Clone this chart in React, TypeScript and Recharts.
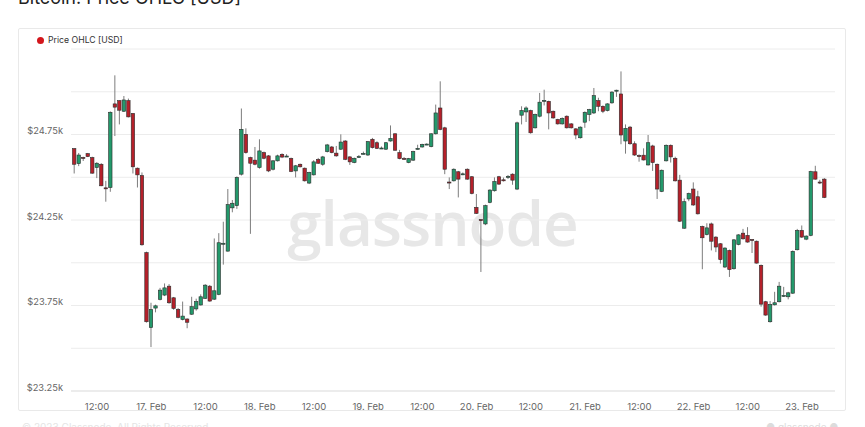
import React from 'react';
import { ComposedChart, Bar, XAxis, YAxis, CartesianGrid } from 'recharts';

// hourly candles, first one at 16 Feb 07:00
const firstHour = 7;

const openPrices = [
  24667, 24580, 24616, 24638, 24615, 24557, 24576, 24438, 24440, 24929,
  24948, 24886, 24948, 24873, 24553, 24510, 24059, 23621, 23735, 23786,
  23811, 23863, 23795, 23727, 23668, 23671, 23699, 23730, 23753, 23792,
  23863, 23787, 23815, 24110, 24068, 24321, 24334, 24518, 24751, 24615,
  24600, 24557, 24644, 24625, 24547, 24596, 24634, 24622, 24610, 24537,
  24576, 24553, 24466, 24514, 24604, 24576, 24650, 24677, 24641, 24664,
  24712, 24619, 24586, 24617, 24636, 24630, 24722, 24702, 24668, 24664,
  24712, 24754, 24644, 24610, 24586, 24600, 24665, 24677, 24690, 24679,
  24754, 24905, 24789, 24472, 24479, 24532, 24516, 24547, 24503, 24324,
  24252, 24227, 24353, 24421, 24503, 24485, 24501, 24518, 24431, 24863,
  24882, 24890, 24789, 24857, 24946, 24944, 24886, 24838, 24812, 24857,
  24812, 24783, 24731, 24822, 24867, 24876, 24948, 24915, 24890, 24935,
  25005, 24987, 24712, 24793, 24696, 24627, 24629, 24572, 24683, 24576,
  24417, 24596, 24687, 24611, 24483, 24202, 24373, 24431, 24386, 24212,
  24165, 24227, 24150, 24111, 23975, 24072, 23965, 24107, 24173, 24160,
  24136, 24126, 23985, 23772, 23655, 23754, 23772, 23805, 23801, 23822,
  24076, 24189, 24138, 24160, 24532, 24472, 24489,
];

const highPrices = [
  24670, 24642, 24620, 24642, 24620, 24588, 24582, 24479, 24885, 25096,
  24950, 24975, 24960, 24875, 24557, 24528, 24065, 23766, 23755, 23853,
  23879, 23875, 23800, 23735, 23773, 23675, 23801, 23790, 23815, 23875,
  23870, 24142, 24173, 24240, 24431, 24367, 24505, 24902, 24786, 24620,
  24677, 24722, 24650, 24630, 24600, 24632, 24640, 24635, 24615, 24572,
  24580, 24557, 24532, 24600, 24613, 24625, 24695, 24683, 24683, 24751,
  24717, 24623, 24615, 24630, 24650, 24712, 24730, 24710, 24680, 24706,
  24803, 24758, 24660, 24618, 24613, 24655, 24690, 24696, 24698, 24758,
  24925, 25061, 24795, 24499, 24552, 24537, 24528, 24552, 24507, 24402,
  24255, 24340, 24430, 24499, 24508, 24498, 24513, 24523, 24825, 24915,
  24915, 24895, 24872, 24993, 25012, 24948, 24890, 24842, 24850, 24862,
  24817, 24787, 24798, 24885, 24900, 25022, 24965, 24920, 24933, 25003,
  25012, 25119, 24809, 24800, 24710, 24634, 24669, 24747, 24690, 24580,
  24545, 24692, 24692, 24620, 24514, 24376, 24410, 24470, 24421, 24217,
  24231, 24235, 24155, 24115, 24090, 24077, 24138, 24167, 24198, 24208,
  24138, 24130, 23990, 23777, 23776, 23830, 23888, 23859, 23830, 24072,
  24198, 24218, 24160, 24538, 24567, 24485, 24495,
];

const lowPrices = [
  24522, 24565, 24595, 24618, 24520, 24495, 24448, 24357, 24415, 24741,
  24809, 24882, 24850, 24522, 24440, 24100, 23650, 23507, 23710, 23780,
  23805, 23760, 23725, 23675, 23663, 23617, 23695, 23720, 23750, 23788,
  23772, 23782, 23810, 23989, 24065, 24295, 24315, 24510, 24638, 24169,
  24570, 24550, 24605, 24530, 24540, 24592, 24612, 24620, 24530, 24499,
  24557, 24475, 24460, 24510, 24578, 24567, 24645, 24640, 24620, 24660,
  24600, 24572, 24582, 24615, 24634, 24625, 24668, 24665, 24665, 24660,
  24708, 24655, 24605, 24603, 24582, 24595, 24662, 24673, 24688, 24675,
  24750, 24775, 24518, 24431, 24475, 24382, 24512, 24485, 24400, 24285,
  23946, 24220, 24348, 24416, 24455, 24475, 24490, 24456, 24425, 24809,
  24823, 24755, 24785, 24850, 24920, 24780, 24842, 24808, 24808, 24785,
  24785, 24722, 24726, 24789, 24828, 24870, 24886, 24875, 24885, 24930,
  24970, 24693, 24638, 24690, 24625, 24591, 24598, 24568, 24537, 24373,
  24413, 24592, 24586, 24475, 24238, 24198, 24360, 24332, 24282, 23962,
  24160, 24072, 24062, 23995, 23970, 23917, 23960, 24102, 24135, 24117,
  24057, 23995, 23743, 23690, 23650, 23750, 23768, 23800, 23786, 23818,
  24072, 24145, 24132, 24155, 24485, 24460, 24378,
];

const closePrices = [
  24576, 24630, 24610, 24621, 24524, 24582, 24450, 24433, 24880, 24910,
  24892, 24952, 24853, 24561, 24514, 24105, 23655, 23727, 23748, 23840,
  23853, 23766, 23733, 23681, 23688, 23652, 23743, 23773, 23801, 23869,
  23776, 23836, 24117, 24114, 24340, 24348, 24499, 24780, 24644, 24582,
  24576, 24654, 24611, 24537, 24596, 24625, 24618, 24624, 24534, 24567,
  24561, 24479, 24528, 24590, 24582, 24619, 24689, 24644, 24625, 24706,
  24605, 24590, 24611, 24621, 24640, 24708, 24673, 24669, 24671, 24702,
  24727, 24658, 24609, 24607, 24609, 24650, 24669, 24692, 24694, 24754,
  24876, 24780, 24547, 24468, 24547, 24489, 24520, 24489, 24405, 24289,
  24248, 24334, 24425, 24475, 24460, 24481, 24505, 24483, 24818, 24890,
  24905, 24760, 24867, 24939, 24950, 24876, 24847, 24812, 24844, 24789,
  24789, 24747, 24793, 24880, 24896, 24977, 24915, 24886, 24929, 24998,
  25009, 24747, 24786, 24696, 24630, 24623, 24601, 24702, 24586, 24431,
  24541, 24687, 24619, 24479, 24243, 24357, 24405, 24338, 24286, 24146,
  24204, 24126, 24092, 24018, 24086, 23960, 24134, 24163, 24140, 24121,
  24132, 23998, 23758, 23694, 23756, 23766, 23863, 23809, 23824, 24067,
  24189, 24150, 24156, 24533, 24489, 24468, 24382,
];

const timeTicks = [12, 24, 36, 48, 60, 72, 84, 96, 108, 120, 132, 144, 156, 168];
const priceTicks = [23250, 23500, 23750, 24000, 24250, 24500, 24750, 25000];
const labelledPrices = [23250, 23750, 24250, 24750];

const data = openPrices.map((open, i) => ({
  hour: firstHour + i,
  open,
  high: highPrices[i],
  low: lowPrices[i],
  close: closePrices[i],
  range: [lowPrices[i], highPrices[i]],
}));

const GREEN = '#23996b';
const RED = '#b5202a';

const Candle = (props: any) => {
  const { x, y, width, height, payload } = props;
  if (!payload) return null;
  const top = Math.min(y, y + height);
  const span = Math.abs(height);
  const { open, close, high, low } = payload;
  const k = span / (high - low);
  const yOf = (v: number) => top + (high - v) * k;
  const bodyTop = yOf(Math.max(open, close));
  const bodyH = Math.max(1, yOf(Math.min(open, close)) - bodyTop);
  const cx = x + width / 2;
  return (
    <g>
      <line x1={cx} x2={cx} y1={top} y2={top + span} stroke="#7d7d7d" strokeWidth={1} />
      <rect
        x={x + 0.3}
        y={bodyTop}
        width={width - 0.6}
        height={bodyH}
        fill={close >= open ? GREEN : RED}
        stroke="#2b2b2b"
        strokeWidth={0.6}
      />
    </g>
  );
};

const formatTime = (h: number) => (h % 24 === 12 ? '12:00' : `${16 + h / 24}. Feb`);

const PriceTick = (props: any) => {
  const { y, payload } = props;
  if (!labelledPrices.includes(payload.value)) return null;
  return (
    <text x={63} y={y - 4} textAnchor="end" dominantBaseline="central" fontSize={9.3} fill="#666">
      {`$${(payload.value / 1000).toFixed(2)}k`}
    </text>
  );
};

const TimeTick = (props: any) => {
  const { x, y, payload } = props;
  return (
    <text x={x} y={y + 7} textAnchor="middle" dominantBaseline="central" fontSize={9.5} fill="#666">
      {formatTime(payload.value)}
    </text>
  );
};

export default function App() {
  return (
    <div
      style={{
        position: 'relative',
        width: 865,
        height: 427,
        overflow: 'hidden',
        background: '#fff',
        fontFamily: 'Inter, "Open Sans", sans-serif',
      }}
    >
      <style>{'body { margin: 0; }'}</style>
      <div style={{ position: 'absolute', left: 18, top: -13, fontSize: 18, color: '#222' }}>
        Bitcoin: Price OHLC [USD]
      </div>
      <div
        style={{
          position: 'absolute',
          left: 18,
          top: 28,
          width: 828,
          height: 383,
          border: '1px solid #e9e9e9',
          borderRadius: 2,
          boxSizing: 'border-box',
        }}
      />
      <div style={{ position: 'absolute', left: 37, top: 35, display: 'flex', alignItems: 'center' }}>
        <span style={{ width: 7, height: 7, borderRadius: '50%', background: '#d3161c', marginRight: 4 }} />
        <span style={{ fontSize: 8.7, color: '#333' }}>Price OHLC [USD]</span>
      </div>
      <div
        style={{
          position: 'absolute',
          left: 0,
          width: 865,
          top: 180,
          textAlign: 'center',
          fontSize: 62,
          fontWeight: 600,
          color: '#e7e7e7',
          fontFamily: '"Open Sans", sans-serif',
          letterSpacing: -1,
        }}
      >
        glassnode
      </div>
      <div style={{ position: 'absolute', left: 22, top: 421, fontSize: 10, color: '#e4e4e4' }}>
        © 2023 Glassnode. All Rights Reserved.
      </div>
      <div style={{ position: 'absolute', left: 766, top: 421, fontSize: 10, color: '#dcdcdc' }}>
        ● glassnode ●
      </div>
      <div style={{ position: 'absolute', left: 0, top: 0 }}>
        <ComposedChart
          width={865}
          height={427}
          data={data}
          margin={{ top: 49, right: 30, bottom: 16, left: 11 }}
        >
          <CartesianGrid vertical={false} stroke="#ececec" />
          <XAxis
            dataKey="hour"
            type="number"
            domain={[6.24, 175.3]}
            ticks={timeTicks}
            tick={<TimeTick />}
            tickLine={false}
            axisLine={{ stroke: '#e3e3e3' }}
            height={20}
            allowDataOverflow
          />
          <YAxis
            type="number"
            domain={[23250, 25250]}
            ticks={priceTicks}
            tick={<PriceTick />}
            tickLine={false}
            axisLine={false}
            width={60}
            allowDataOverflow
          />
          <Bar dataKey="range" barSize={4} shape={<Candle />} isAnimationActive={false} />
        </ComposedChart>
      </div>
    </div>
  );
}
